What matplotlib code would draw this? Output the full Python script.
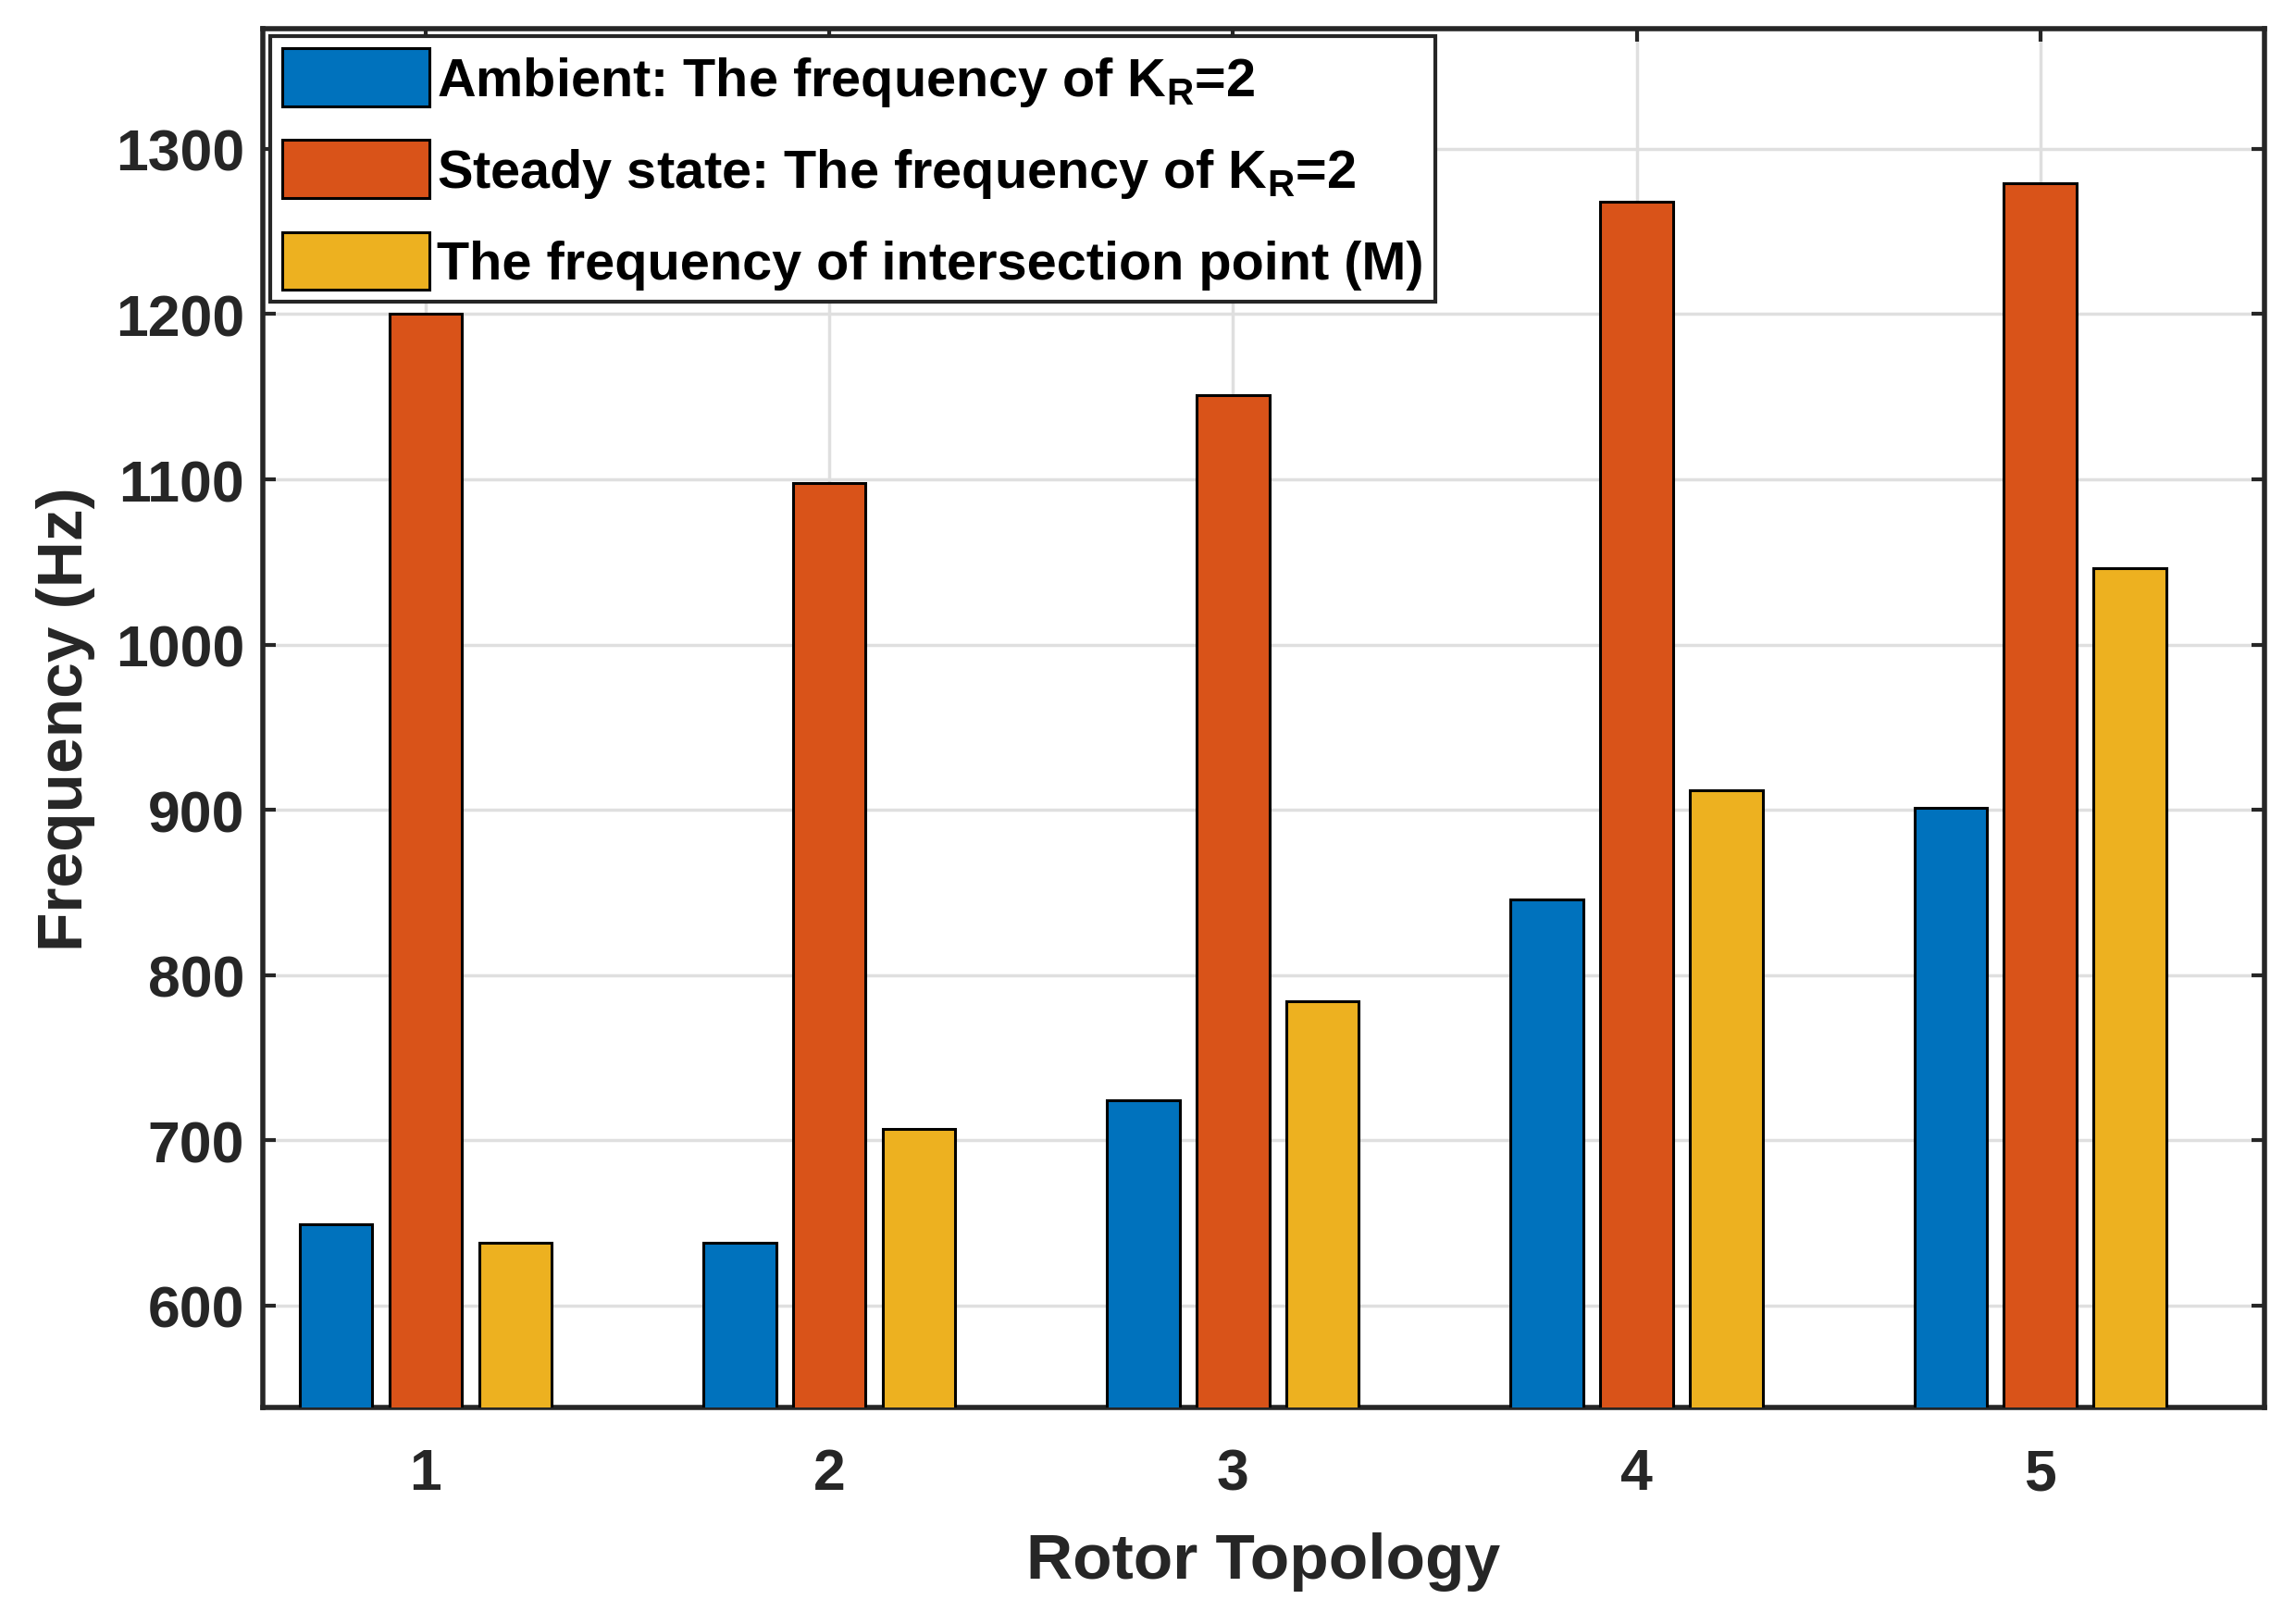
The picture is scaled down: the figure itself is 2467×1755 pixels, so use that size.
import matplotlib.pyplot as plt
import numpy as np

plt.rcParams['font.family'] = ['Liberation Sans', 'DejaVu Sans']
plt.rcParams['font.weight'] = 'bold'
plt.rcParams['mathtext.fontset'] = 'custom'
plt.rcParams['mathtext.bf'] = 'Liberation Sans:bold'
plt.rcParams['mathtext.rm'] = 'Liberation Sans:bold'
plt.rcParams['mathtext.default'] = 'bf'

topology = [1, 2, 3, 4, 5]
ambient = [649, 638, 724, 846, 901]
steady = [1200, 1098, 1151, 1268, 1279]
intersection = [638, 707, 784, 912, 1046]

series_labels = ['Ambient: The frequency of K$_{R}$=2',
                 'Steady state: The frequency of K$_{R}$=2',
                 'The frequency of intersection point (M)']
colors = ['#0072BD', '#D95319', '#EDB120']
dark = '#262626'

fig = plt.figure(figsize=(24.67, 17.56), dpi=100)
ax = fig.add_axes([0.115, 0.133, 0.877, 0.849])

x = np.array(topology)
off = 0.222
w = 0.18
for i, vals in enumerate([ambient, steady, intersection]):
    ax.bar(x + (i - 1) * off, vals, width=w, color=colors[i],
           edgecolor='black', linewidth=2.2, label=series_labels[i], zorder=3)

ax.set_xlim(0.596, 5.556)
ax.set_ylim(538, 1373)
ax.set_xticks(topology)
ax.set_yticks(np.arange(600, 1301, 100))
ax.grid(True, color='#dfdfdf', linewidth=2.5, zorder=0)
ax.set_axisbelow(True)

ax.tick_params(direction='in', length=10, width=3, colors=dark,
               labelsize=45, top=True, right=True)
ax.tick_params(axis='x', pad=30)
ax.tick_params(axis='y', pad=14)
for lab in ax.get_xticklabels() + ax.get_yticklabels():
    lab.set_fontweight('bold')
for s in ax.spines.values():
    s.set_linewidth(4)
    s.set_color(dark)

ax.set_xlabel('Rotor Topology', fontsize=50, fontweight='bold', color=dark, labelpad=24)
ax.set_ylabel('Frequency (Hz)', fontsize=50, fontweight='bold', color=dark, labelpad=16)

leg = ax.legend(loc='upper left', fontsize=41.5, frameon=True, fancybox=False,
                edgecolor=dark, handlelength=2.75, handleheight=1.3,
                handletextpad=0.15, borderpad=0.22, labelspacing=0.6,
                borderaxespad=0.15)
leg.get_frame().set_linewidth(3)
leg.get_frame().set_alpha(1)
for t in leg.get_texts():
    t.set_color('black')

fig.savefig('out.png', dpi=100)
